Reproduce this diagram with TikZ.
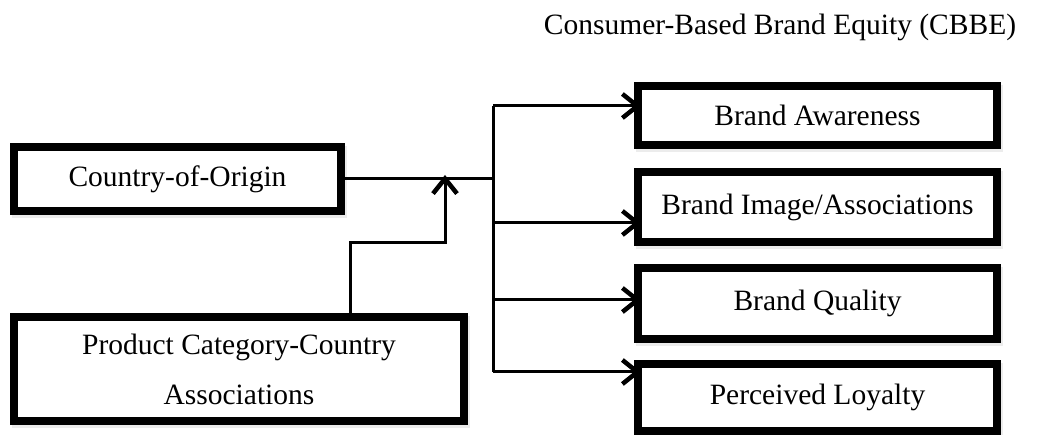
\documentclass[tikz,border=0pt]{standalone}
\usepackage{fontspec}
\setmainfont{Liberation Serif}
\usetikzlibrary{arrows.meta,shadows}

\tikzset{
  blk/.style={draw, fill=white, line width=8pt, inner sep=0pt, align=center,
    drop shadow={shadow xshift=2pt, shadow yshift=-3pt, draw=black!15, fill=black!15, line width=8pt}},
  arr/.style={line width=3pt, -{Straight Barb[length=15pt,width=24pt,line width=4.5pt]}},
}

\begin{document}
\begin{tikzpicture}[x=1pt, y=1pt, font=\fontsize{29.5}{50}\selectfont]
\useasboundingbox (0,0) rectangle (1049,435);
\node[anchor=base] (cbbe) at (780,400){Consumer-Based Brand Equity (CBBE)};
\node[blk, minimum width=327pt, minimum height=64pt] (co) at (177.5,256){Country-of-Origin};
\node[blk, minimum width=450pt, minimum height=104pt] (pcc) at (239,66){Product Category-Country\\Associations};
\node[blk, minimum width=359pt, minimum height=59pt] (ba) at (817.5,319.5){Brand Awareness};
\node[blk, minimum width=359pt, minimum height=70pt] (bi) at (817.5,228){Brand Image/Associations};
\node[blk, minimum width=359pt, minimum height=71pt] (bq) at (817.5,131.5){Brand Quality};
\node[blk, minimum width=359pt, minimum height=67pt] (pl) at (817.5,37.5){Perceived Loyalty};
% junction points
\coordinate (mid) at (445,260);
\coordinate (ta) at (493,329);
\coordinate (tb) at (493,212);
\coordinate (tc) at (493,135);
\coordinate (td) at (493,63);
\draw[line width=3pt] (co.east) -- (co.east -| ta);
\draw[arr] ([xshift=111pt]pcc.north) -- ++(0,70) -| (mid);
\draw[line width=3pt] (ta) -- (td);
\draw[arr, shorten >=-7pt] (ta) -- (ta -| ba.west);
\draw[arr, shorten >=-7pt] (tb) -- (tb -| bi.west);
\draw[arr, shorten >=-7pt] (tc) -- (tc -| bq.west);
\draw[arr, shorten >=-7pt] (td) -- (td -| pl.west);
\end{tikzpicture}
\end{document}
